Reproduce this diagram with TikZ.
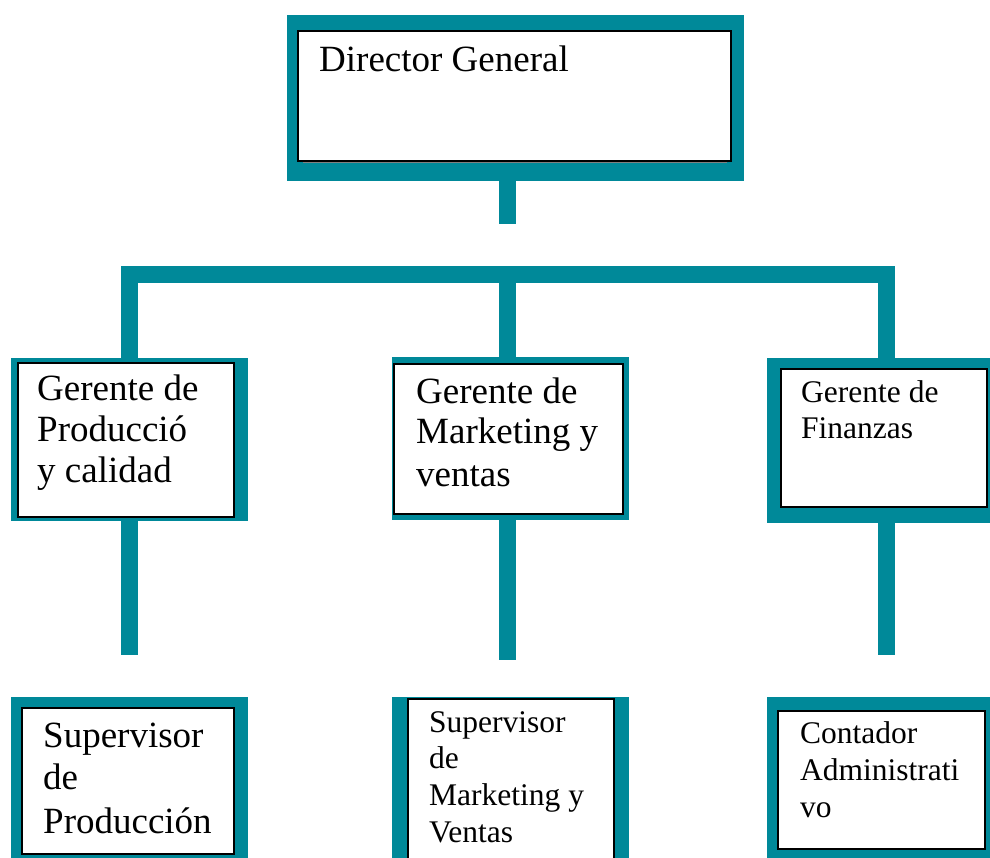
\documentclass[tikz,border=0pt]{standalone}
\usepackage{fontspec}
\setmainfont{Liberation Serif}
\definecolor{tealbar}{RGB}{0,137,153}
\begin{document}
\begin{tikzpicture}[x=1pt,y=-1pt,
  frame/.style={fill=tealbar,draw=none,inner sep=0,outer sep=0,anchor=north west},
  inbox/.style={fill=white,draw=black,line width=1.2pt,inner sep=0,outer sep=0,anchor=north west},
  bar/.style={draw=tealbar,line width=17pt,line join=miter},
  big/.style={font=\fontsize{37}{44}\selectfont,anchor=base west,inner sep=0},
  small/.style={font=\fontsize{31.5}{37}\selectfont,anchor=base west,inner sep=0}]
\clip (0,0) rectangle (990,858);
\fill[white] (0,0) rectangle (990,858);
% outer teal frames
\node[frame,minimum width=457,minimum height=166] (topF) at (287,15) {};
\node[frame,minimum width=237,minimum height=163] (L1F) at (11,358) {};
\node[frame,minimum width=237,minimum height=163] (M1F) at (392,357) {};
\node[frame,minimum width=230,minimum height=165] (R1F) at (767,358) {};
\node[frame,minimum width=237,minimum height=170] (L2F) at (11,697) {};
\node[frame,minimum width=237,minimum height=170] (M2F) at (392,697) {};
\node[frame,minimum width=230,minimum height=170] (R2F) at (767,697) {};
% connectors
\coordinate (s0) at (507.5,224);
\coordinate (cL) at (129,274.5);
\coordinate (cM) at (507.5,274.5);
\coordinate (cR) at (886.5,274.5);
\coordinate (eL) at (129,655);
\coordinate (eM) at (507.5,660);
\coordinate (eR) at (886.5,655);
\draw[bar] (s0 |- topF.south) -- (s0);
\draw[bar] (cL |- L1F.north) -- (cL) -- (cR) -- (cR |- R1F.north);
\draw[bar] (cM) -- (cM |- M1F.north);
\draw[bar] (eL |- L1F.south) -- (eL);
\draw[bar] (eM |- M1F.south) -- (eM);
\draw[bar] (eR |- R1F.south) -- (eR);
% inner white boxes
\node[inbox,minimum width=433,minimum height=130] (topI) at (298,31) {};
\draw[gray,line width=1.2pt] ([xshift=5,yshift=-1.5]topI.south west) -- ([xshift=-4,yshift=-1.5]topI.south east);
\node[inbox,minimum width=216,minimum height=154] (L1I) at (18,363) {};
\node[inbox,minimum width=229,minimum height=150] (M1I) at (394,364) {};
\node[inbox,minimum width=206,minimum height=138] (R1I) at (781,369) {};
\node[inbox,minimum width=212,minimum height=146] (L2I) at (22,708) {};
\node[inbox,minimum width=206,minimum height=170] (M2I) at (408,699) {};
\node[inbox,minimum width=207,minimum height=138] (R2I) at (778,711) {};
% texts
\node[big] (t0) at (319,72) {Director General};
\node[big] (t1a) at (37,400) {Gerente de};
\node[big] (t1b) at (37,441) {Producció};
\node[big] (t1c) at (37,482) {y calidad};
\node[big] (t2a) at (416,403) {Gerente de};
\node[big] (t2b) at (416,443) {Marketing y};
\node[big] (t2c) at (416,486) {ventas};
\node[small] (t3a) at (801,402) {Gerente de};
\node[small] (t3b) at (801,438) {Finanzas};
\node[big] (t4a) at (43,747) {Supervisor};
\node[big] (t4b) at (43,789) {de};
\node[big] (t4c) at (43,833) {Producción};
\node[small] (t5a) at (429,732) {Supervisor};
\node[small] (t5b) at (429,768) {de};
\node[small] (t5c) at (429,805) {Marketing y};
\node[small] (t5d) at (429,842) {Ventas};
\node[small] (t6a) at (800,743) {Contador};
\node[small] (t6b) at (800,780) {Administrati};
\node[small] (t6c) at (800,817) {vo};
\end{tikzpicture}
\end{document}
